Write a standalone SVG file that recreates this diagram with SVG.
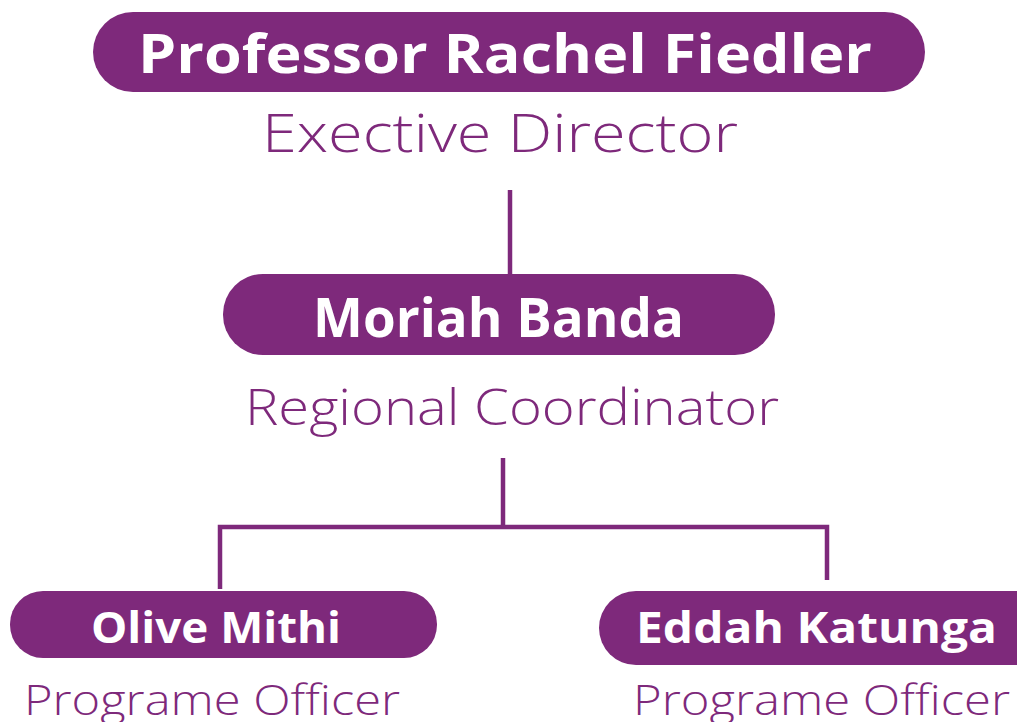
<svg xmlns="http://www.w3.org/2000/svg" width="1017" height="722" viewBox="0 0 1017 722">
<style>
.pill{fill:#7e297b}
.name{fill:#ffffff;font-family:"Open Sans","Liberation Sans",sans-serif;font-weight:700}
.role{fill:#7e297b;font-family:"Open Sans","Liberation Sans",sans-serif;font-weight:300}
.conn{stroke:#7e297b;stroke-width:4.5;fill:none}
</style>
<rect width="1017" height="722" fill="#ffffff"/>
<g id="connectors">
<line class="conn" x1="510" y1="190" x2="510" y2="276"/>
<line class="conn" x1="503" y1="458" x2="503" y2="527"/>
<polyline class="conn" points="220,589 220,527 827,527 827,580"/>
</g>
<g id="node-rachel">
<rect class="pill" x="93" y="12" width="832" height="80" rx="40"/>
<text class="name" x="138" y="73" font-size="54" textLength="734" lengthAdjust="spacingAndGlyphs">Professor Rachel Fiedler</text>
<text class="role" x="262" y="152" font-size="53" textLength="476" lengthAdjust="spacingAndGlyphs">Exective Director</text>
</g>
<g id="node-moriah">
<rect class="pill" x="223" y="274" width="552" height="81" rx="40"/>
<text class="name" x="313" y="337" font-size="53" textLength="371" lengthAdjust="spacingAndGlyphs">Moriah Banda</text>
<text class="role" x="245" y="425" font-size="49" textLength="534" lengthAdjust="spacingAndGlyphs">Regional Coordinator</text>
</g>
<g id="node-olive">
<rect class="pill" x="10" y="591" width="427" height="67" rx="33"/>
<text class="name" x="91" y="643" font-size="43" textLength="250" lengthAdjust="spacingAndGlyphs">Olive Mithi</text>
<text class="role" x="24" y="715" font-size="42" textLength="376" lengthAdjust="spacingAndGlyphs">Programe Officer</text>
</g>
<g id="node-eddah">
<rect class="pill" x="599" y="591" width="460" height="74" rx="37"/>
<text class="name" x="636" y="643" font-size="43" textLength="361" lengthAdjust="spacingAndGlyphs">Eddah Katunga</text>
<text class="role" x="633" y="715" font-size="42" textLength="377" lengthAdjust="spacingAndGlyphs">Programe Officer</text>
</g>
</svg>
